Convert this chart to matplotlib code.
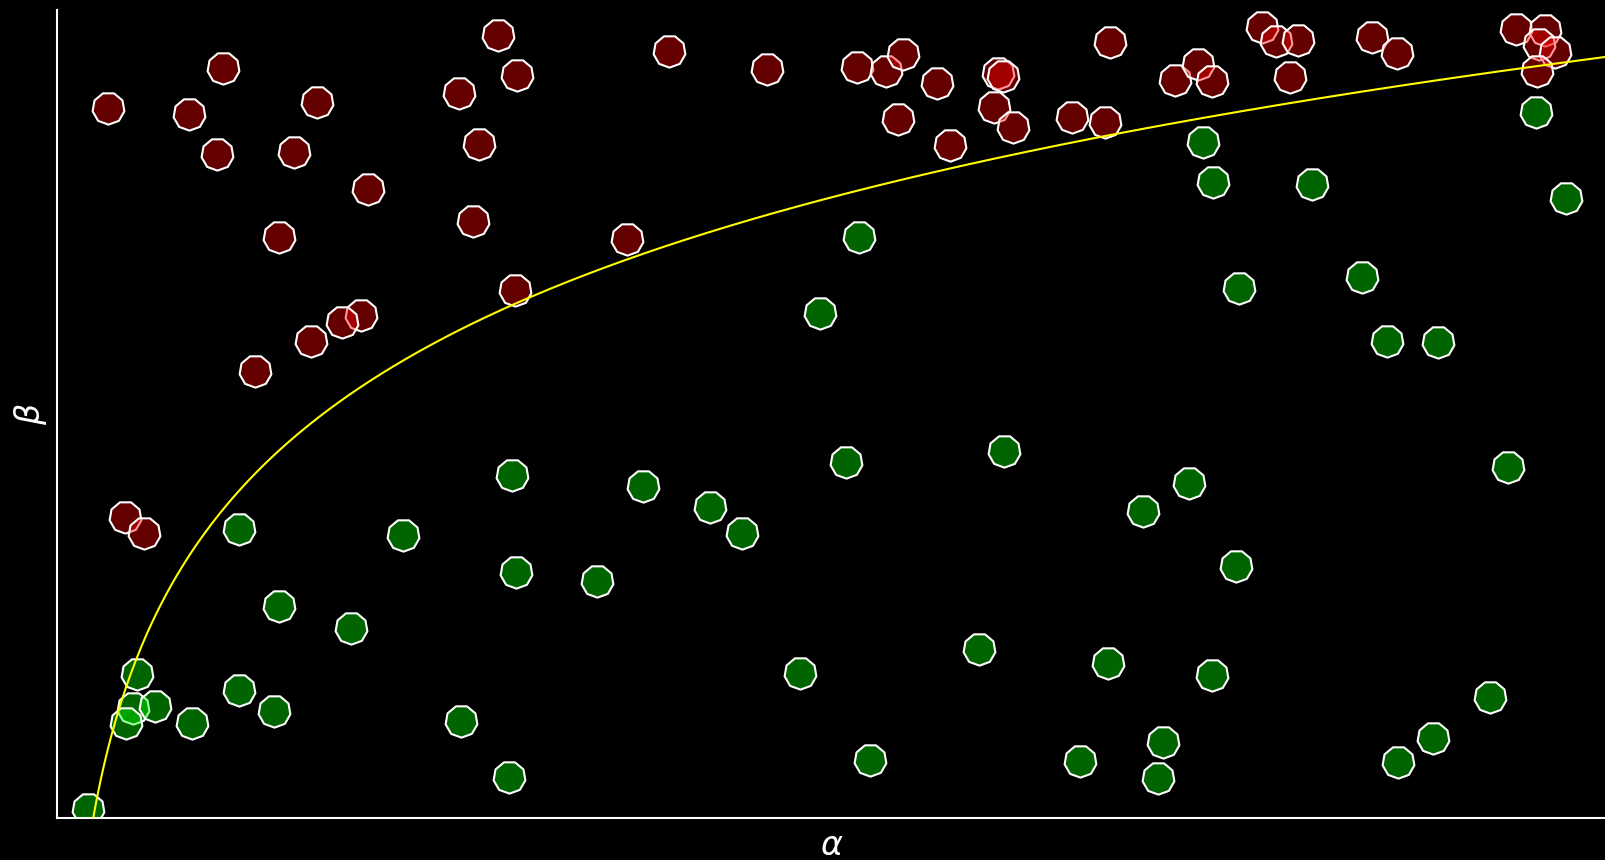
import numpy as np
import matplotlib
matplotlib.use("Agg")
import matplotlib.pyplot as plt

# class 1 (below the boundary)
green_alpha = [0.7397, 0.7461, 0.8104, 0.9546, 0.9740, 0.7631, 0.8423, 0.8584, 0.8914, 0.5178,
               0.4926, 0.9367, 0.6114, 0.5094, 0.2935, 0.3781, 0.4218, 0.4424, 0.7009, 0.7310,
               0.1177, 0.2236, 0.2961, 0.3488, 0.7612, 0.1431, 0.1898, 0.5950, 0.6783, 0.7458,
               0.4797, 0.9251, 0.0518, 0.0493, 0.0635, 0.0444, 0.0873, 0.1173, 0.1399, 0.2608,
               0.8885, 0.7142, 0.5249, 0.6604, 0.8655, 0.7106, 0.2920, 0.0200]
green_beta = [0.8370, 0.7875, 0.7850, 0.8734, 0.7669, 0.6563, 0.6699, 0.5907, 0.5895, 0.7194,
              0.6246, 0.4348, 0.4542, 0.4410, 0.4245, 0.4109, 0.3853, 0.3523, 0.3799, 0.4150,
              0.3580, 0.3499, 0.3048, 0.2937, 0.3122, 0.2624, 0.2348, 0.2095, 0.1922, 0.1770,
              0.1798, 0.1501, 0.1782, 0.1365, 0.1386, 0.1179, 0.1172, 0.1584, 0.1324, 0.1200,
              0.0986, 0.0944, 0.0718, 0.0709, 0.0697, 0.0499, 0.0511, 0.0108]

# class 2 (above the boundary)
red_alpha = [0.1074, 0.0331, 0.0852, 0.1677, 0.1031, 0.1532, 0.2006, 0.1435, 0.1961, 0.1838,
             0.1638, 0.1276, 0.2845, 0.2968, 0.2597, 0.2724, 0.2688, 0.3678, 0.2957, 0.3953,
             0.4582, 0.5163, 0.5352, 0.5464, 0.5679, 0.5431, 0.5765, 0.6077, 0.6109, 0.6051,
             0.6174, 0.6555, 0.6766, 0.6798, 0.7218, 0.7368, 0.7455, 0.7777, 0.7870, 0.8010,
             0.8487, 0.8653, 0.7960, 0.9419, 0.9606, 0.9569, 0.9671, 0.9553, 0.0439, 0.0562]
red_beta = [0.9286, 0.8791, 0.8709, 0.8865, 0.8218, 0.8246, 0.7788, 0.7191, 0.6221, 0.6135,
            0.5907, 0.5532, 0.9691, 0.9196, 0.8969, 0.8338, 0.7385, 0.7166, 0.6535, 0.9493,
            0.9266, 0.9298, 0.9245, 0.9452, 0.9100, 0.8647, 0.8329, 0.9224, 0.9183, 0.8803,
            0.8548, 0.8672, 0.8610, 0.9608, 0.9134, 0.9328, 0.9121, 0.9793, 0.9616, 0.9629,
            0.9662, 0.9472, 0.9167, 0.9765, 0.9752, 0.9579, 0.9484, 0.9245, 0.3729, 0.3523]

# decision boundary: beta = b0 + b1 * ln(alpha)
b0 = 0.942
b1 = 0.2508

fig = plt.figure(figsize=(16.06, 8.60), dpi=100, facecolor="black")
ax = fig.add_axes([57 / 1606, 42 / 860, 1 - 57 / 1606, 808 / 860])
ax.set_facecolor("black")

nonagon = (9, 0, 20)
ax.scatter(green_alpha, green_beta, s=540, marker=nonagon,
           facecolors=[(0.0, 1.0, 0.0, 0.4)], edgecolors="white", linewidths=1.5, zorder=2)
ax.scatter(red_alpha, red_beta, s=540, marker=nonagon,
           facecolors=[(1.0, 0.0, 0.0, 0.4)], edgecolors="white", linewidths=1.5, zorder=2)

a_start = np.exp(-b0 / b1)
a = np.linspace(a_start, 1.0, 600)
ax.plot(a, b0 + b1 * np.log(a), color="yellow", lw=1.5, zorder=3)

ax.set_xlim(0, 1)
ax.set_ylim(0, 1)
ax.set_xticks([])
ax.set_yticks([])
for side in ("top", "right"):
    ax.spines[side].set_visible(False)
for side in ("left", "bottom"):
    ax.spines[side].set_color("white")
    ax.spines[side].set_linewidth(1.5)

ax.set_xlabel(r"$\alpha$", color="white", fontsize=24, labelpad=8)
ax.set_ylabel(r"$\beta$", color="white", fontsize=24, labelpad=6)

fig.savefig("out.png", dpi=100, facecolor="black")
